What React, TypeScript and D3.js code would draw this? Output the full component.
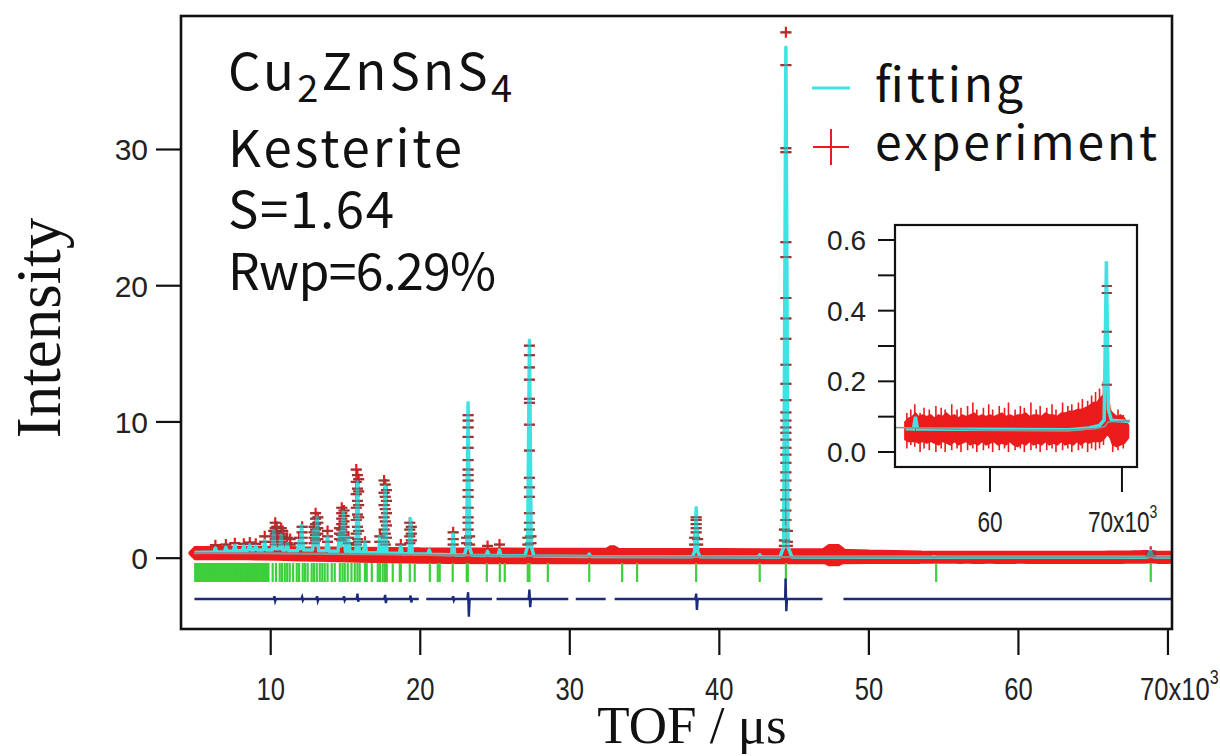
import React from "react";
import * as d3 from "d3";

// ---------- axis ticks ----------
const xTickValues = [10, 20, 30, 40, 50, 60, 70];
const yTickValues = [0, 10, 20, 30];
const insetXTickValues = [60, 70];
const insetYTickValues = [0, 0.1, 0.2, 0.3, 0.4, 0.5, 0.6];
const insetYLabelValues = [0, 0.2, 0.4, 0.6];

// ---------- fitting curve (TOF in 10^3 us, intensity) ----------
const fitCurve: [number, number][] = [
  [4.9, 0.42], [6.2, 0.45], [6.3, 0.75], [6.4, 0.45], [6.9, 0.45], [7.0, 0.8], [7.1, 0.5],
  [7.5, 0.5], [7.6, 0.95], [7.7, 0.55], [8.1, 0.55], [8.2, 0.9], [8.3, 0.55], [8.5, 0.6],
  [8.6, 1.0], [8.7, 0.6], [8.9, 0.6], [9.0, 0.9], [9.1, 0.6], [9.5, 0.6], [9.6, 1.3], [9.7, 0.6],
  [10.1, 0.6], [10.2, 2.0], [10.3, 0.7], [10.6, 0.7], [10.7, 1.7], [10.8, 0.6], [11.0, 0.6],
  [11.1, 1.1], [11.2, 0.55], [11.8, 0.55], [11.9, 1.3], [12.0, 0.7], [12.05, 2.4], [12.2, 0.6],
  [12.8, 0.6], [12.9, 2.1], [13.0, 1.0], [13.1, 3.0], [13.2, 0.55], [13.7, 0.55], [13.8, 1.6],
  [13.9, 0.5], [14.5, 0.5], [14.6, 1.9], [14.7, 0.9], [14.85, 3.4], [15.0, 0.5], [15.1, 0.5],
  [15.2, 1.5], [15.3, 0.45], [15.7, 0.45], [15.8, 5.6], [15.92, 0.45], [16.2, 0.42], [16.3, 1.2],
  [16.4, 0.4], [17.2, 0.4], [17.3, 1.6], [17.4, 0.4], [17.55, 0.4], [17.65, 5.3], [17.77, 0.38],
  [18.6, 0.35], [18.7, 0.9], [18.8, 0.33], [19.25, 0.33], [19.35, 2.9], [19.47, 0.32],
  [20.5, 0.3], [20.6, 0.6], [20.7, 0.28], [22.1, 0.25], [22.2, 1.8], [22.3, 0.24],
  [22.95, 0.23], [23.1, 0.8], [23.2, 11.4], [23.3, 0.8], [23.45, 0.22], [24.4, 0.2], [24.5, 0.5],
  [24.6, 0.2], [25.2, 0.19], [25.3, 0.6], [25.4, 0.18], [27.0, 0.17], [27.18, 0.9], [27.3, 16.0],
  [27.42, 0.9], [27.6, 0.16], [31.2, 0.13], [31.3, 0.3], [31.4, 0.13], [38.2, 0.1], [38.35, 0.5],
  [38.45, 3.7], [38.55, 0.5], [38.7, 0.1], [42.6, 0.09], [42.7, 0.25], [42.8, 0.09], [44.05, 0.09],
  [44.3, 0.8], [44.45, 37.5], [44.6, 0.8], [44.85, 0.09], [53.6, 0.066], [54.2, 0.065],
  [54.35, 0.1], [54.5, 0.065], [66.0, 0.063], [67.5, 0.068], [68.3, 0.075], [68.65, 0.09],
  [68.82, 0.54], [68.97, 0.12], [69.2, 0.09], [70.6, 0.086],
];

// ---------- background ----------
const backgroundCurve: [number, number][] = [
  [4.9, 0.38], [8, 0.37], [12, 0.34], [16, 0.3], [20, 0.25], [25, 0.19], [30, 0.14], [35, 0.11],
  [40, 0.09], [50, 0.072], [60, 0.062], [66, 0.062], [68, 0.066], [68.7, 0.072], [68.95, 0.085],
  [70.6, 0.088],
];

// ---------- experiment: baseline scatter envelope [x, low, high] ----------
const expBand: [number, number, number][] = [
  [4.9, 0.28, 0.45], [5.5, 0.28, 0.46], [6.5, 0.28, 0.47], [7.5, 0.28, 0.47], [8.5, 0.28, 0.47],
  [9.5, 0.27, 0.47], [10.5, 0.25, 0.46], [12, 0.2, 0.44], [14, 0.15, 0.42], [16, 0.1, 0.4],
  [18, 0.06, 0.38], [20, 0.03, 0.36], [22, 0.01, 0.35], [25, 0.0, 0.34], [28, 0.0, 0.33],
  [31, 0.0, 0.32], [32.6, 0.0, 0.32], [32.7, 0.0, 0.5], [33.0, 0.0, 0.5],
  [33.1, 0.0, 0.32], [36, 0.0, 0.31], [40, 0.0, 0.3], [44, 0.0, 0.29],
  [47.2, 0.0, 0.28], [47.3, -0.15, 0.6], [48.0, -0.15, 0.6], [48.1, 0.0, 0.26],
  [50, 0.01, 0.2], [53.4, 0.02, 0.13],
  [53.55, 0.035, 0.085], [53.8, 0.03, 0.095], [54.1, 0.03, 0.1], [54.35, 0.03, 0.11],
  [54.6, 0.025, 0.1], [54.9, 0.03, 0.105], [55.2, 0.025, 0.1], [55.5, 0.03, 0.105],
  [55.8, 0.025, 0.095], [56.1, 0.02, 0.105], [56.4, 0.03, 0.1], [56.7, 0.025, 0.11],
  [57.0, 0.02, 0.1], [57.3, 0.03, 0.105], [57.6, 0.02, 0.095], [57.9, 0.025, 0.105],
  [58.2, 0.03, 0.1], [58.5, 0.02, 0.105], [58.8, 0.025, 0.11], [59.1, 0.02, 0.1],
  [59.4, 0.03, 0.105], [59.7, 0.02, 0.1], [60.0, 0.025, 0.105], [60.3, 0.03, 0.1],
  [60.6, 0.02, 0.105], [60.9, 0.025, 0.11], [61.2, 0.02, 0.1], [61.5, 0.03, 0.105],
  [61.8, 0.02, 0.1], [62.1, 0.015, 0.105], [62.4, 0.025, 0.105], [62.7, 0.02, 0.11],
  [63.0, 0.03, 0.1], [63.3, 0.02, 0.105], [63.6, 0.025, 0.105], [63.9, 0.02, 0.1],
  [64.2, 0.03, 0.11], [64.5, 0.02, 0.105], [64.8, 0.025, 0.105], [65.1, 0.02, 0.1],
  [65.4, 0.03, 0.11], [65.7, 0.02, 0.11], [66.0, 0.025, 0.115], [66.3, 0.02, 0.115],
  [66.6, 0.03, 0.12], [66.9, 0.02, 0.12], [67.2, 0.03, 0.125], [67.5, 0.025, 0.13],
  [67.8, 0.03, 0.14], [68.1, 0.03, 0.14], [68.4, 0.03, 0.155], [68.7, 0.04, 0.165],
  [68.9, 0.05, 0.18], [69.1, 0.04, 0.12], [69.3, 0.02, 0.11], [69.6, 0.015, 0.1],
  [69.9, 0.02, 0.105], [70.2, 0.025, 0.095], [70.5, 0.04, 0.075],
];

// ---------- experiment: single-point excursions [x, low, high] ----------
const expSpikes: [number, number, number][] = [
  [53.7, 0.01, 0.11], [54.0, 0.02, 0.12], [54.3, 0.015, 0.135], [54.7, 0.0, 0.11],
  [55.0, 0.01, 0.125], [55.4, 0.005, 0.12], [55.9, 0.0, 0.13], [56.3, 0.01, 0.125],
  [56.6, 0.0, 0.12], [57.1, 0.005, 0.135], [57.5, 0.01, 0.12], [57.8, 0.0, 0.125],
  [58.3, 0.005, 0.13], [58.7, 0.01, 0.14], [59.0, 0.0, 0.12], [59.5, 0.005, 0.125],
  [59.9, 0.01, 0.135], [60.2, 0.0, 0.12], [60.7, 0.005, 0.13], [61.1, 0.01, 0.125],
  [61.4, 0.0, 0.14], [61.9, 0.005, 0.12], [62.3, 0.01, 0.13], [62.6, 0.0, 0.125],
  [63.1, 0.005, 0.14], [63.5, 0.01, 0.12], [63.8, 0.0, 0.13], [64.3, 0.005, 0.125],
  [64.7, 0.01, 0.135], [65.0, 0.0, 0.12], [65.5, 0.005, 0.14], [65.9, 0.01, 0.13],
  [66.2, 0.0, 0.135], [66.7, 0.005, 0.14], [67.0, 0.01, 0.15], [67.4, 0.0, 0.145],
  [67.7, 0.01, 0.16], [68.0, 0.005, 0.17], [68.3, 0.01, 0.18], [68.6, 0.02, 0.2],
  [69.3, 0.0, 0.11], [69.7, 0.005, 0.12], [70.1, 0.01, 0.105],
];

// ---------- experiment: points on the Bragg peaks ----------
const expColumnX = [
  6.3, 7.0, 7.6, 8.2, 8.6, 9.0, 9.6, 10.2, 10.3, 10.4, 10.7, 10.8, 11.1, 11.3, 11.9, 12.1,
  12.9, 13.0, 13.15, 13.8, 14.6, 14.75, 14.9, 15.2, 15.72, 15.8, 15.88, 16.3, 17.3, 17.58,
  17.66, 17.74, 18.7, 19.3, 19.4, 22.2, 23.1, 23.2, 23.3, 24.5, 25.3, 27.2, 27.3, 27.4,
  38.35, 38.45, 38.55, 44.35, 44.45, 44.55, 68.85,
];
const expColumnY: number[][] = [
  [0.95], [1.0], [1.1], [1.05], [1.15], [1.05], [1.6, 1.2], [2.0, 1.6, 1.2],
  [2.6, 2.2, 1.8, 1.4, 1.0], [2.3, 1.9, 1.5], [2.2, 1.8, 1.4, 1.0], [2.0, 1.6, 1.2], [1.5, 1.1],
  [1.4, 1.0], [1.5, 1.1], [2.3, 1.9, 1.5, 1.1], [2.3, 1.9, 1.5, 1.1],
  [3.3, 2.9, 2.5, 2.1, 1.7, 1.3], [3.0, 2.6, 2.2, 1.8, 1.4], [2.0, 1.6, 1.2], [2.2, 1.8, 1.4],
  [3.7, 3.3, 2.9, 2.5, 2.1, 1.7, 1.3], [3.5, 3.1, 2.7, 2.3, 1.9, 1.5], [1.5, 1.1],
  [6.5, 5.6, 4.7, 3.7, 2.8, 1.8, 1.0], [6.1, 5.1, 4.2, 3.2, 2.3, 1.4], [5.8, 4.9, 3.9, 3.0, 2.0, 1.2],
  [1.2], [1.6, 1.2], [5.7, 4.8, 3.9, 3.0, 2.1, 1.2], [5.4, 4.5, 3.6, 2.7, 1.8, 1.0],
  [5.0, 4.2, 3.3, 2.4, 1.5], [1.0], [2.6, 2.1, 1.6, 1.1], [2.3, 1.8, 1.3], [1.9, 1.4, 1.0],
  [1.5, 1.1],
  [10.5, 10.1, 9.6, 8.9, 8.1, 7.2, 6.5, 6.1, 5.7, 5.0, 4.5, 3.7, 3.0, 2.6, 2.1],
  [1.6, 1.0], [0.9], [1.0], [1.5, 1.0],
  [15.6, 14.9, 14.0, 13.1, 11.7, 11.4, 9.8, 7.9, 5.9, 5.2, 4.5, 3.3, 2.6, 2.1],
  [1.6, 1.1], [1.5, 1.0], [3.0, 2.8, 2.5, 2.2, 1.9], [1.4, 1.0], [2.1, 1.3, 0.9],
  [38.6, 36.2, 30.1, 29.8, 23.2, 22.1, 19.1, 17.6, 16.1, 14.2, 12.8, 11.6, 10.7, 10.1, 9.6, 9.2,
    8.7, 8.1, 7.6, 7.0, 6.3, 5.7, 5.0, 4.3, 3.5, 2.8],
  [2.0, 1.2, 0.9], [0.47, 0.45, 0.34, 0.3, 0.19],
];

// ---------- difference curve (null = excluded region) ----------
const diffCurve: [number, number | null][] = [
  [4.9, -3.0], [10.2, -3.0], [10.25, -2.8], [10.3, -3.15], [10.35, -3.0], [12.05, -3.0],
  [12.1, -2.85], [12.15, -3.1], [12.2, -3.0], [13.05, -3.0], [13.1, -2.8], [13.15, -3.15],
  [13.2, -3.0], [14.85, -3.0], [14.9, -2.8], [14.95, -3.1], [15.0, -3.0], [15.75, -3.0],
  [15.8, -2.6], [15.85, -3.2], [15.9, -3.0], [17.6, -3.0], [17.65, -2.7], [17.7, -3.3],
  [17.75, -3.0], [19.3, -3.0], [19.35, -2.75], [19.4, -3.25], [19.45, -3.0], [19.9, -3.0],
  [20.1, null], [20.4, -3.0], [22.15, -3.0], [22.2, -2.8], [22.25, -3.1], [22.3, -3.0],
  [23.15, -3.0], [23.2, -2.5], [23.25, -4.3], [23.3, -3.0], [24.8, -3.0], [24.95, null],
  [25.1, -3.0], [27.25, -3.0], [27.3, -2.3], [27.35, -3.6], [27.4, -3.0], [29.9, -3.0],
  [30.1, null], [30.4, -3.0], [32.4, -3.0], [32.7, null], [33.0, -3.0], [38.4, -3.0],
  [38.45, -2.6], [38.5, -3.8], [38.55, -3.0], [44.4, -3.0], [44.43, -1.5], [44.48, -3.9],
  [44.52, -3.0], [46.9, -3.0], [47.5, null], [48.3, -3.0], [70.3, -3.0],
];

// ---------- Bragg reflection positions ----------
const braggPositions = [
  4.95, 5.05, 5.12, 5.2, 5.3, 5.38, 5.45, 5.55, 5.62, 5.7, 5.8, 5.88, 5.95, 6.05, 6.12, 6.2,
  6.3, 6.38, 6.45, 6.55, 6.62, 6.7, 6.8, 6.88, 6.95, 7.05, 7.12, 7.2, 7.3, 7.38, 7.45, 7.55,
  7.62, 7.7, 7.8, 7.88, 7.95, 8.05, 8.12, 8.2, 8.3, 8.38, 8.45, 8.55, 8.62, 8.7, 8.8, 8.88,
  8.95, 9.05, 9.12, 9.2, 9.3, 9.38, 9.45, 9.55, 9.62, 9.7, 9.78, 9.85,
  10.13, 10.35, 10.6, 10.75, 10.94, 11.1, 11.27, 11.5, 11.74, 11.9, 12.14, 12.3, 12.47, 12.74,
  12.9, 13.08, 13.28, 13.45, 13.61, 13.8, 14.08, 14.28, 14.62, 14.8, 14.95, 15.15, 15.4,
  15.62, 15.8, 15.95, 16.3, 16.42, 16.76, 17.16, 17.3, 17.49, 17.65, 17.76, 18.16, 18.63,
  18.7, 19.3, 19.63, 20.64, 21.17, 21.3, 22.17, 23.11, 23.18, 24.45, 25.32, 25.65, 27.19,
  27.3, 28.53, 31.3, 33.5, 34.5, 38.45, 42.7, 44.45, 54.5, 68.85,
];

// ---------- styling ----------
const RED = "#ec1c1c";
const CYAN = "#3fe3e3";
const GRAY = "#8a9292";
const GREEN = "#3dcf3d";
const NAVY = "#1b2a7c";
const SANS = "'Liberation Sans', Arial, sans-serif";
const JP = "'Noto Sans CJK JP', 'Noto Sans', sans-serif";
const SERIF = "'Liberation Serif', 'Times New Roman', serif";

function plusPath(cx: number, cy: number, r: number) {
  return `M${cx - r},${cy}h${2 * r}M${cx},${cy - r}v${2 * r}`;
}

export default function App() {
  const M = { left: 181, right: 1172, top: 16, bottom: 629 };
  const x = d3.scaleLinear().domain([4.0, 70.27]).range([M.left, M.right]);
  const y = d3.scaleLinear().domain([-5.2, 39.8]).range([M.bottom, M.top]);

  const I = { left: 895, right: 1137, top: 225, bottom: 467 };
  const xi = d3.scaleLinear().domain([52.8, 71.14]).range([I.left, I.right]);
  const yi = d3.scaleLinear().domain([-0.0425, 0.6425]).range([I.bottom, I.top]);

  const bandPath = (sx: any, sy: any, data: [number, number, number][]) =>
    d3.area<[number, number, number]>().x((d) => sx(d[0])).y0((d) => sy(d[1])).y1((d) => sy(d[2]))(data) || "";
  const linePath = (sx: any, sy: any, data: [number, number][]) =>
    d3.line<[number, number]>().x((d) => sx(d[0])).y((d) => sy(d[1]))(data) || "";
  const spikePath = (sx: any, sy: any, data: [number, number, number][]) =>
    data.map((d) => `M${sx(d[0])},${sy(d[1])}V${sy(d[2])}`).join("");

  const pluses = (sx: any, sy: any, r: number, minX: number) => {
    let p = "";
    let h = "";
    expColumnX.forEach((cx, i) => {
      if (cx < minX) return;
      expColumnY[i].forEach((v) => {
        p += plusPath(sx(cx), sy(v), r);
        h += `M${sx(cx) - r},${sy(v)}h${2 * r}`;
      });
    });
    return { p, h };
  };
  const mainPl = pluses(x, y, 5.5, 0);
  const insetPl = pluses(xi, yi, 5, 53.5);

  const diffLine =
    d3
      .line<[number, number | null]>()
      .defined((d) => d[1] !== null)
      .x((d) => x(d[0]))
      .y((d) => y(d[1] as number))(diffCurve) || "";

  const insetBand = expBand.filter((d) => d[0] >= 53.5);
  const insetFit = fitCurve.filter((d) => d[0] >= 53.5);
  const insetBg = backgroundCurve.filter((d) => d[0] >= 50);

  return (
    <svg
      width={1220}
      height={756}
      viewBox="0 0 1220 756"
      style={{ position: "absolute", left: 0, top: 0, background: "#fff" }}
    >
      <defs>
        <clipPath id="mainClip">
          <rect x={M.left} y={M.top} width={M.right - M.left} height={M.bottom - M.top} />
        </clipPath>
        <clipPath id="insetClip">
          <rect x={I.left} y={I.top} width={I.right - I.left} height={I.bottom - I.top} />
        </clipPath>
      </defs>
      <rect x={0} y={0} width={1220} height={756} fill="#fff" />

      {/* ---------- main data ---------- */}
      <g clipPath="url(#mainClip)">
        <path d={bandPath(x, y, expBand)} fill={RED} stroke={RED} strokeWidth={12} strokeLinejoin="bevel" />
        <path d={mainPl.p} stroke={RED} strokeWidth={2.2} fill="none" />
        <path d={linePath(x, y, fitCurve)} stroke={CYAN} strokeWidth={3.5} fill="none" strokeLinejoin="round" />
        <path d={linePath(x, y, backgroundCurve)} stroke={GRAY} strokeWidth={2.2} fill="none" />
        <path d={mainPl.h} stroke="#5a4a4a" strokeOpacity={0.55} strokeWidth={2} fill="none" />
        {braggPositions.map((b, i) => (
          <line key={i} x1={x(b)} x2={x(b)} y1={y(-0.35)} y2={y(-1.75)} stroke={GREEN} strokeWidth={2.2} />
        ))}
        <path d={diffLine} stroke={NAVY} strokeWidth={2.4} fill="none" />
      </g>

      {/* main frame */}
      <rect x={M.left} y={M.top} width={M.right - M.left} height={M.bottom - M.top} fill="none" stroke="#111" strokeWidth={2.6} />
      {/* y ticks */}
      {yTickValues.map((t) => (
        <g key={"y" + t}>
          <line x1={M.left - 25} x2={M.left} y1={y(t)} y2={y(t)} stroke="#111" strokeWidth={2.2} />
          <text x={148} y={y(t) + 11} textAnchor="end" fontFamily={SANS} fontSize={30} fill="#222">
            {t}
          </text>
        </g>
      ))}
      {/* x ticks */}
      {xTickValues.map((t) => (
        <g key={"x" + t}>
          <line x1={x(t)} x2={x(t)} y1={M.bottom} y2={M.bottom + 26} stroke="#111" strokeWidth={2.2} />
          {t < 70 ? (
            <text transform={`translate(${x(t)},700) scale(0.8,1)`} textAnchor="middle" fontFamily={SANS} fontSize={32} fill="#222">
              {t}
            </text>
          ) : (
            <text transform={`translate(${x(t) - 28},700) scale(0.8,1)`} textAnchor="start" fontFamily={SANS} fontSize={32} fill="#222">
              {"70x10"}
              <tspan fontSize={20} dy={-16}>3</tspan>
            </text>
          )}
        </g>
      ))}

      {/* axis titles */}
      <text transform="translate(60,328) rotate(-90)" textAnchor="middle" fontFamily={SERIF} fontSize={63} fill="#111">
        Intensity
      </text>
      <text x={692} y={743} textAnchor="middle" fontFamily={SERIF} fontSize={53} fill="#111">
        TOF / μs
      </text>

      {/* annotation text */}
      <g fontFamily={JP} fill="#111">
        <text x={228} y={90} fontSize={51} textLength={284} lengthAdjust="spacing">
          Cu<tspan fontSize={38} dy={12}>2</tspan>
          <tspan dy={-12}>ZnSnS</tspan>
          <tspan fontSize={38} dy={12}>4</tspan>
        </text>
        <text x={228} y={167} fontSize={51} textLength={234} lengthAdjust="spacing">Kesterite</text>
        <text x={228} y={228} fontSize={51} textLength={166} lengthAdjust="spacing">S=1.64</text>
        <text x={228} y={290} fontSize={50} textLength={268} lengthAdjust="spacing">Rwp=6.29%</text>
      </g>

      {/* legend */}
      <line x1={812} x2={850} y1={88} y2={88} stroke={CYAN} strokeWidth={3} />
      <path d={plusPath(831, 147, 18)} stroke={RED} strokeWidth={2} fill="none" />
      <g fontFamily={JP} fill="#111" fontSize={48}>
        <text x={875} y={102} textLength={148} lengthAdjust="spacing">fitting</text>
        <text x={875} y={160} textLength={282} lengthAdjust="spacing">experiment</text>
      </g>

      {/* ---------- inset ---------- */}
      <rect x={I.left} y={I.top} width={I.right - I.left} height={I.bottom - I.top} fill="#fff" />
      <g clipPath="url(#insetClip)">
        <path d={bandPath(xi, yi, insetBand)} fill={RED} stroke={RED} strokeWidth={1.5} strokeLinejoin="round" />
        <path d={spikePath(xi, yi, expSpikes)} stroke={RED} strokeWidth={1.6} fill="none" />
        <path d={insetPl.p} stroke={RED} strokeWidth={2} fill="none" />
        <path d={linePath(xi, yi, insetFit)} stroke={CYAN} strokeWidth={3.5} fill="none" />
        <path d={linePath(xi, yi, insetBg)} stroke={GRAY} strokeWidth={1.6} fill="none" />
        <path d={insetPl.h} stroke="#5a4a4a" strokeOpacity={0.6} strokeWidth={2} fill="none" />
      </g>
      <rect x={I.left} y={I.top} width={I.right - I.left} height={I.bottom - I.top} fill="none" stroke="#111" strokeWidth={2.2} />
      {insetYTickValues.map((t) => (
        <line key={"iy" + t} x1={I.left - 17} x2={I.left} y1={yi(t)} y2={yi(t)} stroke="#111" strokeWidth={2} />
      ))}
      {insetYLabelValues.map((t) => (
        <text key={"iyl" + t} x={866} y={yi(t) + 10} textAnchor="end" fontFamily={SANS} fontSize={28} fill="#222">
          {t.toFixed(1)}
        </text>
      ))}
      {insetXTickValues.map((t) => (
        <g key={"ix" + t}>
          <line x1={xi(t)} x2={xi(t)} y1={I.bottom} y2={I.bottom + 25} stroke="#111" strokeWidth={2} />
          {t < 70 ? (
            <text transform={`translate(${xi(t)},532) scale(0.78,1)`} textAnchor="middle" fontFamily={SANS} fontSize={29} fill="#222">
              {t}
            </text>
          ) : (
            <text transform={`translate(${xi(t) - 34},532) scale(0.78,1)`} textAnchor="start" fontFamily={SANS} fontSize={29} fill="#222">
              {"70x10"}
              <tspan fontSize={18} dy={-14}>3</tspan>
            </text>
          )}
        </g>
      ))}
    </svg>
  );
}
